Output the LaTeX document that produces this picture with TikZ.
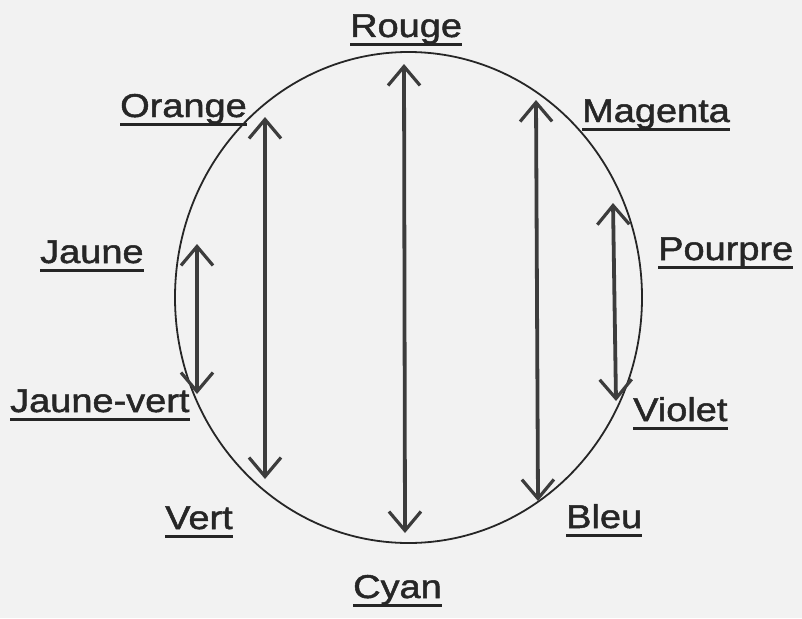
\documentclass[tikz,border=0pt]{standalone}
\usepackage{fontspec}
\setmainfont{Liberation Sans}[FakeStretch=1.15,FakeBold=1.5]
\usetikzlibrary{arrows.meta,shapes.geometric}
\definecolor{ink}{HTML}{262626}
\definecolor{paper}{HTML}{F2F2F2}
\tikzset{
  lab/.style={anchor=base west, inner sep=0pt, text=ink, font=\fontsize{33}{38}\selectfont},
  uline/.style={draw=ink, line width=2.4pt},
  ring/.style={draw=ink, line width=1.8pt},
  dbl/.style={draw=ink!90, line width=3.8pt,
    {Straight Barb[length=19pt,width=32pt,line width=3.2pt]}-{Straight Barb[length=19pt,width=32pt,line width=3.2pt]}},
}
\newcommand\lbl[4]{%
  \node[lab] (#1) at (#2,-#3) {#4};
  \draw[uline] ([yshift=-7.5pt]#1.base west) -- ([yshift=-7.5pt]#1.base east);}
\begin{document}
\begin{tikzpicture}[x=1pt,y=1pt]
\fill[paper] (0,0) rectangle (802,-618);
\useasboundingbox (0,0) rectangle (802,-618);
% colour circle
\node[ring, ellipse, minimum width=467pt, minimum height=491pt, inner sep=0pt] (wheel) at (408.5,-297.5) {};
% labels
\lbl{rouge}{350}{37}{Rouge}
\lbl{orange}{120}{117}{Orange}
\lbl{magenta}{582}{122}{Magenta}
\lbl{jaune}{40}{263}{Jaune}
\lbl{pourpre}{658}{260}{Pourpre}
\lbl{jvert}{10}{412}{Jaune-vert}
\lbl{violet}{633}{421}{Violet}
\lbl{vert}{165}{529}{Vert}
\lbl{bleu}{566}{528}{Bleu}
\lbl{cyan}{353}{598}{Cyan}
% arrow end points
\coordinate (r1) at (404,-64);  \coordinate (r2) at (405,-533);
\coordinate (o1) at (265,-117); \coordinate (o2) at (265,-479);
\coordinate (m1) at (536,-100); \coordinate (m2) at (538,-501);
\coordinate (j1) at (197,-244); \coordinate (j2) at (197,-394);
\coordinate (p1) at (613,-203); \coordinate (p2) at (616,-401);
\draw[dbl] (r1) -- (r2);
\draw[dbl] (o1) -- (o2);
\draw[dbl] (m1) -- (m2);
\draw[dbl] (j1) -- (j2);
\draw[dbl] (p1) -- (p2);
\end{tikzpicture}
\end{document}
